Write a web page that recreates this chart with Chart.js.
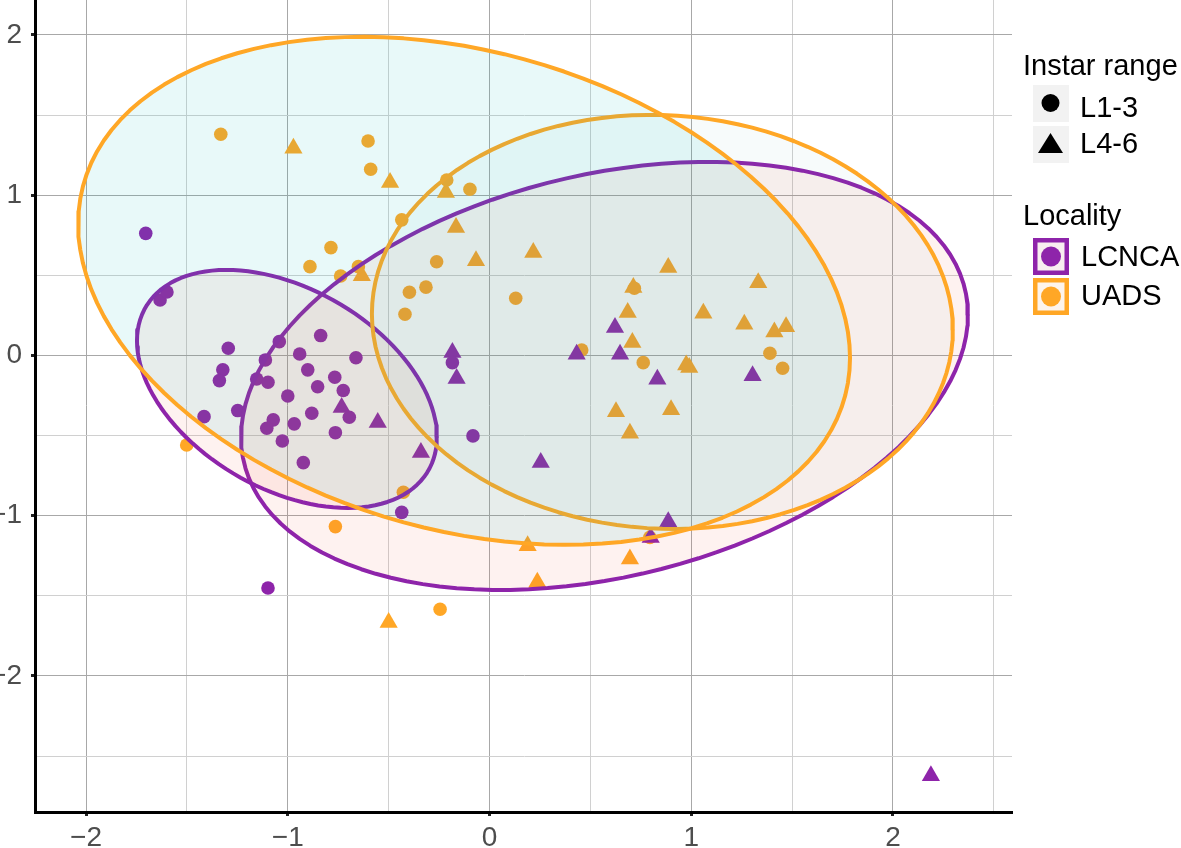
<!DOCTYPE html>
<html>
<head>
<meta charset="utf-8">
<title>Instar range / Locality</title>
<script src="https://cdn.jsdelivr.net/npm/chart.js@4.4.0/dist/chart.umd.min.js"></script>
<style>
  body { margin: 0; background: #fff; font-family: "Liberation Sans", Arial, sans-serif; }
  #wrap { position: relative; width: 1181px; height: 848px; overflow: hidden; }
  #chart { position: absolute; left: 0; top: 0; }
  .lg { position: absolute; font-size: 29px; line-height: 29px; color: #000; white-space: nowrap; }
  .key { position: absolute; }
</style>
</head>
<body>
<div id="wrap">
  <canvas id="chart" width="1181" height="848"></canvas>

  <!-- leyenda -->
  <div class="lg" style="left:1023px; top:51px;">Instar range</div>
  <svg class="key" style="left:1033px; top:85px;" width="36" height="37">
    <rect x="0" y="0" width="36" height="37" fill="#f2f2f2"/>
    <circle cx="17.5" cy="18" r="9" fill="#000"/>
  </svg>
  <div class="lg" style="left:1080px; top:93px;">L1-3</div>
  <svg class="key" style="left:1033px; top:126px;" width="36" height="37">
    <rect x="0" y="0" width="36" height="37" fill="#f2f2f2"/>
    <polygon points="17.5,7 30,27 5,27" fill="#000"/>
  </svg>
  <div class="lg" style="left:1080px; top:129px;">L4-6</div>

  <div class="lg" style="left:1023px; top:201px;">Locality</div>
  <svg class="key" style="left:1033px; top:238px;" width="36" height="37">
    <rect x="2.25" y="2.25" width="31.5" height="32.5" fill="#f8eef0" stroke="#8e24aa" stroke-width="4.5"/>
    <circle cx="18" cy="18.5" r="10" fill="#8e24aa"/>
  </svg>
  <div class="lg" style="left:1081px; top:242px;">LCNCA</div>
  <svg class="key" style="left:1033px; top:278px;" width="36" height="37">
    <rect x="2.25" y="2.25" width="31.5" height="32.5" fill="#fdf4ec" stroke="#ffa726" stroke-width="4.5"/>
    <circle cx="18" cy="18.5" r="10" fill="#ffa726"/>
  </svg>
  <div class="lg" style="left:1081px; top:281px;">UADS</div>
</div>

<script>
// ==========================
//  DATOS
// ==========================
// LCNCA, L1-3 (círculos morados)
const lcncaL13 = [
  [-1.704, 0.762], [-1.633, 0.346], [-1.599, 0.396], [-1.295, 0.045], [-1.322, -0.090],
  [-1.339, -0.157], [-1.415, -0.382], [-1.248, -0.344], [-1.042, 0.086], [-1.111, -0.028],
  [-1.154, -0.147], [-1.098, -0.167], [-1.000, -0.253], [-1.072, -0.402], [-1.104, -0.454],
  [-1.027, -0.534], [-0.923, -0.669], [-0.968, -0.427], [-0.941, 0.009], [-0.901, -0.090],
  [-0.837, 0.124], [-0.852, -0.195], [-0.881, -0.361], [-0.767, -0.136], [-0.725, -0.219],
  [-0.695, -0.386], [-0.764, -0.482], [-0.662, -0.014], [-0.435, -0.979], [-1.098, -1.451],
  [-0.082, -0.502], [-0.184, -0.045]
];

// LCNCA, L4-6 (triángulos morados)
const lcncaL46 = [
  [-0.733, -0.325], [-0.554, -0.418], [-0.340, -0.606], [-0.184, 0.018], [-0.163, -0.144],
  [0.254, -0.668], [0.432, 0.008], [0.622, 0.174], [0.647, 0.008], [0.832, -0.148],
  [1.304, -0.127], [0.886, -1.038], [0.799, -1.136], [2.188, -2.623]
];

// UADS, L1-3 (círculos naranjas)
const uadsL13 = [
  [-1.332, 1.380], [-0.602, 1.338], [-0.589, 1.162], [-0.212, 1.095], [-0.097, 1.037],
  [-0.435, 0.846], [-0.786, 0.673], [-0.890, 0.554], [-0.738, 0.496], [-0.650, 0.554],
  [-0.262, 0.585], [-0.397, 0.394], [-0.315, 0.426], [-0.419, 0.257], [0.130, 0.357],
  [0.718, 0.419], [0.762, -0.045], [1.390, 0.014], [1.453, -0.080], [0.457, 0.034],
  [-1.501, -0.559], [-0.764, -1.068], [-0.427, -0.854], [-0.245, -1.584], [0.795, -1.135]
];

// UADS, L4-6 (triángulos naranjas)
const uadsL46 = [
  [-0.972, 1.293], [-0.493, 1.079], [-0.216, 1.017], [-0.633, 0.497], [-0.166, 0.798],
  [-0.067, 0.591], [0.217, 0.642], [0.886, 0.549], [1.332, 0.454], [0.713, 0.424],
  [0.685, 0.268], [0.708, 0.081], [1.060, 0.264], [1.263, 0.195], [1.412, 0.147],
  [1.470, 0.179], [0.990, -0.075], [0.975, -0.060], [0.627, -0.352], [0.900, -0.339],
  [0.696, -0.485], [0.189, -1.188], [0.696, -1.271], [0.237, -1.416], [-0.500, -1.666]
];

// elipses: centro, semieje hacia el punto más a la derecha, semieje vertical
const ellipseNames   = ['UADS L1-3', 'UADS L4-6', 'LCNCA L1-3', 'LCNCA L4-6'];
const ellipseCenters = [[-0.126, 0.403], [0.857, 0.209], [-1.004, -0.209], [0.570, -0.128]];
const ellipseAxisU   = [[1.913, -0.418], [1.440, -0.050], [0.7435, -0.2996], [1.8017, 0.381]];
const ellipseAxisV   = [1.529, 1.291, 0.6795, 1.280];

// ejes
const xRange = [-2.253, 2.59];
const yRange = [-2.849, 2.218];

// ==========================
//  COLORES
// ==========================
const PURPLE = '#8e24aa';
const ORANGE = '#ffa726';
const ellipseStroke = [ORANGE, ORANGE, PURPLE, PURPLE];
const ellipseFill = ['rgba(0,190,190,0.09)', 'rgba(40,150,150,0.04)', 'rgba(240,80,60,0.075)', 'rgba(240,80,60,0.075)'];
const FONT = '"Liberation Sans", Arial, sans-serif';

function toXY(list) {
  return list.map(p => ({ x: p[0], y: p[1] }));
}

// contorno cerrado (un segmento repetido al final para que no se vea la unión)
function ellipsePoints(i) {
  const [cx, cy] = ellipseCenters[i];
  const [ux, uy] = ellipseAxisU[i];
  const v = ellipseAxisV[i];
  const pts = [];
  for (let k = 0; k <= 122; k++) {
    const t = 2 * Math.PI * k / 120;
    pts.push({ x: cx + ux * Math.cos(t), y: cy + uy * Math.cos(t) + v * Math.sin(t) });
  }
  return pts;
}

// ==========================
//  DATASETS
// ==========================
const pointSets = [
  { label: 'LCNCA L1-3', data: toXY(lcncaL13), color: PURPLE, style: 'circle', r: 6.8 },
  { label: 'LCNCA L4-6', data: toXY(lcncaL46), color: PURPLE, style: 'triangle', r: 10.5 },
  { label: 'UADS L1-3', data: toXY(uadsL13), color: ORANGE, style: 'circle', r: 6.8 },
  { label: 'UADS L4-6', data: toXY(uadsL46), color: ORANGE, style: 'triangle', r: 10.5 }
].map((s, i) => ({
  label: s.label,
  data: s.data,
  pointStyle: s.style,
  pointRadius: s.r,
  pointHoverRadius: s.r,
  pointBorderWidth: 0,
  backgroundColor: s.color,
  borderColor: s.color,
  order: 10 + i
}));

// las elipses van encima de los puntos (se ven apagados dentro)
const ellipseSets = ellipseNames.map((name, i) => ({
  label: name,
  data: ellipsePoints(i),
  showLine: true,
  fill: 'shape',
  tension: 0,
  pointRadius: 0,
  pointHoverRadius: 0,
  borderWidth: 4,
  borderColor: ellipseStroke[i],
  backgroundColor: ellipseFill[i],
  borderJoinStyle: 'round',
  borderCapStyle: 'round',
  order: i + 1
}));

// ==========================
//  EJES
// ==========================
function tickLabel(v) {
  if (Math.abs(v - Math.round(v)) > 1e-6) return '';
  const n = Math.round(v);
  return n < 0 ? '\u2212' + Math.abs(n) : String(n);
}
const isMajor = ctx => ctx.tick && Math.abs(ctx.tick.value - Math.round(ctx.tick.value)) < 1e-6;
const gridColor = ctx => isMajor(ctx) ? '#a8a8a8' : '#d0d0d0';
const tickColor = ctx => isMajor(ctx) ? '#222' : 'rgba(0,0,0,0)';

const chart = new Chart(document.getElementById('chart'), {
  type: 'scatter',
  data: { datasets: [...ellipseSets, ...pointSets] },
  options: {
    responsive: false,
    animation: false,
    devicePixelRatio: 1,
    layout: { autoPadding: false, padding: { top: 0, right: 169, bottom: 0, left: 0 } },
    plugins: { legend: { display: false }, tooltip: { enabled: false } },
    scales: {
      x: {
        type: 'linear',
        min: xRange[0],
        max: xRange[1],
        afterFit: s => { s.height = 36; s.paddingLeft = 0; s.paddingRight = 0; },
        border: { display: true, color: '#000', width: 3 },
        grid: { color: gridColor, lineWidth: 1, tickColor: tickColor, tickLength: 4, tickWidth: 3 },
        ticks: {
          stepSize: 0.5, includeBounds: false, autoSkip: false, maxRotation: 0,
          padding: 5, color: '#4d4d4d', font: { family: FONT, size: 28 }, callback: tickLabel
        }
      },
      y: {
        type: 'linear',
        min: yRange[0],
        max: yRange[1],
        afterFit: s => { s.width = 35; s.paddingTop = 0; s.paddingBottom = 0; },
        border: { display: true, color: '#000', width: 3 },
        grid: { color: gridColor, lineWidth: 1, tickColor: tickColor, tickLength: 4, tickWidth: 3 },
        ticks: {
          stepSize: 0.5, includeBounds: false, autoSkip: false,
          padding: 9, color: '#4d4d4d', font: { family: FONT, size: 28 }, callback: tickLabel
        }
      }
    }
  }
});
</script>
</body>
</html>
